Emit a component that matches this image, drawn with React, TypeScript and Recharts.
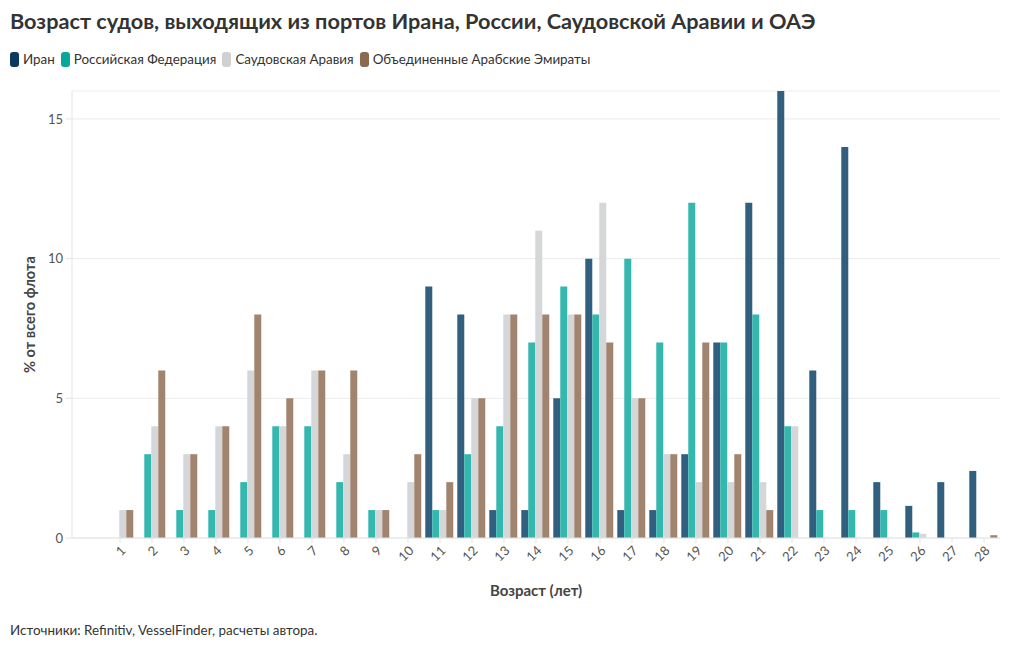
import { BarChart, Bar, XAxis, YAxis, CartesianGrid, Label } from 'recharts';

const ages = ['1', '2', '3', '4', '5', '6', '7', '8', '9', '10', '11', '12', '13', '14', '15', '16', '17', '18', '19', '20', '21', '22', '23', '24', '25', '26', '27', '28'];
const iran = [0, 0, 0, 0, 0, 0, 0, 0, 0, 0, 9, 8, 1, 1, 5, 10, 1, 1, 3, 7, 12, 16, 6, 14, 2, 1.15, 2, 2.4];
const russia = [0, 3, 1, 1, 2, 4, 4, 2, 1, 0, 1, 3, 4, 7, 9, 8, 10, 7, 12, 7, 8, 4, 1, 1, 1, 0.2, 0, 0];
const saudi = [1, 4, 3, 4, 6, 4, 6, 3, 1, 2, 1, 5, 8, 11, 8, 12, 5, 3, 2, 2, 2, 4, 0, 0, 0, 0.15, 0, 0];
const uae = [1, 6, 3, 4, 8, 5, 6, 6, 1, 3, 2, 5, 8, 8, 8, 7, 5, 3, 7, 3, 1, 0, 0, 0, 0, 0, 0, 0.1];
const yTicks = [0, 5, 10, 15];

const series = [
  { key: 'iran', name: 'Иран', color: '#305f80', legend: '#0b3a5c' },
  { key: 'russia', name: 'Российская Федерация', color: '#33b7ae', legend: '#07a79c' },
  { key: 'saudi', name: 'Саудовская Аравия', color: '#d5d6d8', legend: '#d0d0d0' },
  { key: 'uae', name: 'Объединенные Арабские Эмираты', color: '#a08470', legend: '#8c6a52' },
];

const data = ages.map((age, i) => ({ age, iran: iran[i], russia: russia[i], saudi: saudi[i], uae: uae[i] }));

const font = 'Lato, "Noto Sans", sans-serif';

export default function App() {
  return (
    <div style={{ position: 'absolute', left: 0, top: 0, width: 1020, height: 650, fontFamily: font, color: '#333', background: '#fff' }}>
      <div style={{ position: 'absolute', left: 10, top: 8, fontSize: 21.7, fontWeight: 700, whiteSpace: 'nowrap' }}>
        Возраст судов, выходящих из портов Ирана, России, Саудовской Аравии и ОАЭ
      </div>
      <div style={{ position: 'absolute', left: 10, top: 51, display: 'flex', fontSize: 13.4, whiteSpace: 'nowrap' }}>
        {series.map((s) => (
          <div key={s.key} style={{ display: 'flex', alignItems: 'center', marginRight: 6 }}>
            <span style={{ width: 9, height: 15, borderRadius: 3, background: s.legend, marginRight: 4 }} />
            {s.name}
          </div>
        ))}
      </div>
      <div style={{ position: 'absolute', left: 0, top: 0 }}>
        <BarChart
          width={1020}
          height={650}
          data={data}
          margin={{ top: 91, right: 20, bottom: 52, left: 0 }}
          barCategoryGap="4%"
          barGap={0}
        >
          <CartesianGrid vertical={false} stroke="#ececec" />
          <XAxis
            dataKey="age"
            padding={{ left: 32, right: 0 }}
            height={60}
            stroke="#e4e4e4"
            tickSize={5}
            tickMargin={2}
            interval={0}
            angle={-45}
            textAnchor="end"
            tick={{ fill: '#555', fontSize: 13, fontFamily: font }}
          >
            <Label value="Возраст (лет)" position="insideBottom" offset={2} style={{ fill: '#444', fontSize: 15, fontWeight: 700, fontFamily: font }} />
          </XAxis>
          <YAxis
            width={72}
            domain={[0, 16]}
            ticks={yTicks}
            stroke="#e4e4e4"
            tickSize={6}
            tickMargin={3}
            tick={{ fill: '#555', fontSize: 13, fontFamily: font }}
          >
            <Label value="% от всего флота" angle={-90} position="insideLeft" offset={30} style={{ textAnchor: 'middle', fill: '#444', fontSize: 14.6, fontWeight: 700, fontFamily: font }} />
          </YAxis>
          {series.map((s) => (
            <Bar key={s.key} dataKey={s.key} name={s.name} fill={s.color} isAnimationActive={false} />
          ))}
        </BarChart>
      </div>
      <div style={{ position: 'absolute', left: 10, top: 622, fontSize: 13.4, whiteSpace: 'nowrap' }}>
        Источники: Refinitiv, VesselFinder, расчеты автора.
      </div>
    </div>
  );
}
